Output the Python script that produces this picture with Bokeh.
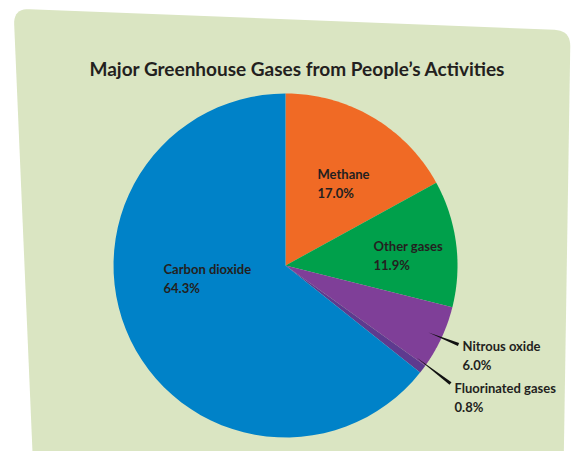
import math
from bokeh.plotting import figure
from bokeh.models import Range1d
from bokeh.embed import file_html
from bokeh.resources import INLINE
from bokeh.core.properties import value

# ---- data ----
gases = ["Methane", "Other gases", "Nitrous oxide", "Fluorinated gases", "Carbon dioxide"]
shares = [17.0, 11.9, 6.0, 0.8, 64.3]
colors = ["#F06A25", "#00A04B", "#7F3F98", "#5E3A8F", "#0082C8"]
label_texts = ["Methane\n17.0%", "Other gases\n11.9%", "Nitrous oxide\n6.0%",
               "Fluorinated gases\n0.8%", "Carbon dioxide\n64.3%"]
title_text = "Major Greenhouse Gases from People\u2019s Activities"

W, H = 582, 451
p = figure(width=W, height=H, output_backend="svg", toolbar_location=None,
           x_range=Range1d(0, W), y_range=Range1d(H, 0),
           min_border=0, outline_line_color=None, background_fill_color="white",
           border_fill_color="white")
p.axis.visible = False
p.grid.visible = False

# background card (quadrilateral with rounded corners)
corners = [(13, 8), (570, 30), (563, 475), (33, 475)]
r = 16
bx, by = [], []
n = len(corners)
for i in range(n):
    px, py = corners[i - 1]
    cx, cy = corners[i]
    nx, ny = corners[(i + 1) % n]
    d1 = math.hypot(px - cx, py - cy)
    d2 = math.hypot(nx - cx, ny - cy)
    ax, ay = cx + (px - cx) * r / d1, cy + (py - cy) * r / d1
    ex, ey = cx + (nx - cx) * r / d2, cy + (ny - cy) * r / d2
    for k in range(11):
        t = k / 10
        x = (1 - t) ** 2 * ax + 2 * (1 - t) * t * cx + t ** 2 * ex
        y = (1 - t) ** 2 * ay + 2 * (1 - t) * t * cy + t ** 2 * ey
        bx.append(x); by.append(y)
p.patch(bx, by, fill_color="#DAE5C2", line_color=None)

# pie
cx0, cy0, R = 285, 265, 172
total = sum(shares)
start = 0.0
for s, c in zip(shares, colors):
    end = start + s / total * 2 * math.pi
    angs = [start + (end - start) * k / 60 for k in range(61)]
    xs = [cx0] + [cx0 + R * math.sin(a) for a in angs]
    ys = [cy0] + [cy0 - R * math.cos(a) for a in angs]
    p.patch(xs, ys, fill_color=c, line_color=None)
    start = end

# leader lines (tapered)
def taper(x0, y0, x1, y1, w):
    dx, dy = x1 - x0, y1 - y0
    L = math.hypot(dx, dy)
    nx, ny = -dy / L * w, dx / L * w
    p.patch([x0, x1 + nx, x1 - nx], [y0, y1 + ny, y1 - ny], fill_color="#111111", line_color=None)

taper(428, 332, 458, 344, 1.6)
taper(416, 357, 450, 383, 1.6)

# labels
lx = [317, 373, 462, 454, 163]
ly = [165, 237, 337, 379, 260]
p.text(x=lx, y=ly, text=label_texts, text_font=value("Lato"), text_font_style="bold",
       text_font_size="13px", text_color="#231F20", text_baseline="top",
       text_align="left", text_line_height=1.2)

p.text(x=[297], y=[68], text=[title_text], text_font=value("Lato"),
       text_font_style="bold", text_font_size="19px", text_color="#231F20",
       text_baseline="alphabetic", text_align="center")

open("out.html", "w").write(file_html(p, INLINE))
